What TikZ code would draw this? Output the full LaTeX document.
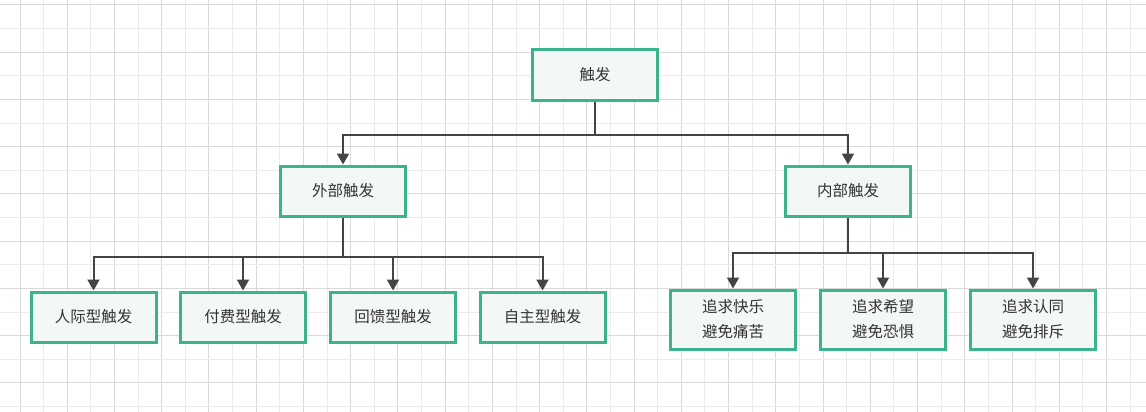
\documentclass[tikz,border=0pt]{standalone}
\usepackage{fontspec}
\setmainfont{Noto Sans CJK SC}
\usetikzlibrary{arrows.meta}
\definecolor{gridA}{HTML}{D9D9D9}
\definecolor{gridB}{HTML}{EBEBEB}
\definecolor{boxline}{HTML}{3BB38C}
\definecolor{boxfill}{HTML}{F3F7F5}
\definecolor{conncol}{HTML}{444444}
\definecolor{txt}{HTML}{333333}
\tikzset{
  box/.style={draw=boxline, line width=3pt, fill=boxfill, minimum width=125pt, minimum height=50pt,
    inner sep=0pt, align=center, text=txt, font=\fontsize{15.5}{25}\selectfont},
  tallbox/.style={box, minimum height=59pt},
  conn/.style={draw=conncol, line width=2pt, -{Triangle[width=12pt,length=11pt]}},
  trunk/.style={draw=conncol, line width=2pt}
}
\begin{document}
\begin{tikzpicture}[x=1pt,y=-1pt]
\useasboundingbox (0,0) rectangle (1146,412);
\fill[white] (0,0) rectangle (1146,412);
% grid
\foreach \i in {-1,...,48}{
  \pgfmathsetmacro{\xx}{20+\i*23.62}
  \pgfmathtruncatemacro{\myparity}{mod(\i+2,2)}
  \ifnum\myparity=0 \draw[gridA, line width=1pt] (\xx,0) -- (\xx,412);
  \else \draw[gridB, line width=1pt] (\xx,0) -- (\xx,412); \fi
}
\foreach \j in {0,...,17}{
  \pgfmathsetmacro{\yy}{5+\j*23.62}
  \pgfmathtruncatemacro{\myparity}{mod(\j,2)}
  \ifnum\myparity=0 \draw[gridA, line width=1pt] (0,\yy) -- (1146,\yy);
  \else \draw[gridB, line width=1pt] (0,\yy) -- (1146,\yy); \fi
}
% nodes
\node[box] (t) at (595,75) {触发};
\node[box] (ext) at (343,191) {外部触发};
\node[box] (int) at (848,191) {内部触发};
\node[box] (e1) at (93.5,317) {人际型触发};
\node[box] (e2) at (243,317) {付费型触发};
\node[box] (e3) at (393,317) {回馈型触发};
\node[box] (e4) at (542.5,317) {自主型触发};
\node[tallbox] (i1) at (733,319.5) {追求快乐\\避免痛苦};
\node[tallbox] (i2) at (883,319.5) {追求希望\\避免恐惧};
\node[tallbox] (i3) at (1033,319.5) {追求认同\\避免排斥};
% connectors
\draw[trunk] (t.south) -- (t.south |- 0,135);
\draw[conn] (t.south |- 0,135) -| (ext.north);
\draw[conn] (t.south |- 0,135) -| (int.north);
\draw[trunk] (ext.south) -- (ext.south |- 0,257);
\foreach \n in {e1,e2,e3,e4}{
  \draw[conn] (ext.south |- 0,257) -| (\n.north);
}
\draw[trunk] (int.south) -- (int.south |- 0,253);
\foreach \n in {i1,i2,i3}{
  \draw[conn] (int.south |- 0,253) -| (\n.north);
}
\end{tikzpicture}
\end{document}
